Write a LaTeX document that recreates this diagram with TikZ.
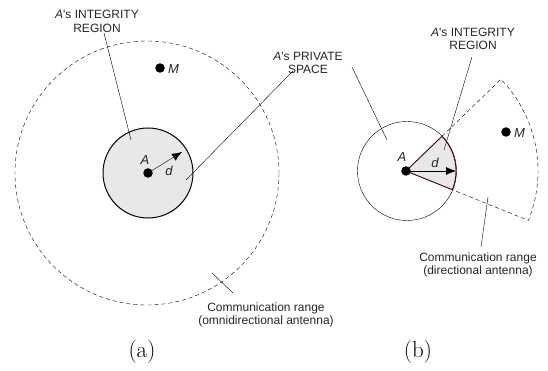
\documentclass[tikz,border=0pt]{standalone}
\usepackage{fontspec}
\newfontfamily\labelfont{Liberation Sans}
\usetikzlibrary{arrows.meta}
\begin{document}
\begin{tikzpicture}[x=1pt,y=-1pt,
  lbl/.style={font=\labelfont\fontsize{12}{13.5}\selectfont, align=center, text=black!85, inner sep=0pt},
  sym/.style={font=\labelfont\itshape\fontsize{13}{14}\selectfont, text=black!85, inner sep=0pt},
  dot/.style={circle,fill=black,inner sep=0pt,minimum size=9.5pt},
  rng/.style={dash pattern=on 4pt off 3pt, thin},
  lead/.style={thin},
  tag/.style={font=\fontsize{23}{26}\selectfont}]
\useasboundingbox (0,0) rectangle (548,371);

  % (a) omnidirectional
  \draw[rng] (147,173) circle[radius=132];
  \draw[fill=gray!18,line width=1pt] (148,173) circle[radius=45];
  \node[dot] (Aa) at (148,173) {};
  \node[sym] (Aal) at (145,160) {A};
  \draw[-{Latex[length=10pt,width=8pt]}] (Aa.center) -- (182,152) coordinate (da);
  \node[sym] (dal) at (169,171) {d};
  \node[dot] (Ma) at (160,68) {};
  \node[sym,anchor=west] (Mal) at (168,69) {M};

  \node[lbl] (intA) at (97,21.5) {\textit{A}'s INTEGRITY\\REGION};
  \coordinate (intAs) at (104,33);
  \coordinate (intAe) at (131,140);
  \draw[lead] (intAs) -- (intAe);

  \node[lbl] (priv) at (308,63) {\textit{A}'s PRIVATE\\SPACE};
  \coordinate (privAs) at (293,71);
  \coordinate (privAe) at (186,180);
  \draw[lead] (privAs) -- (privAe);

  \coordinate (comAs) at (212,273);
  \coordinate (comAe) at (233,293);
  \draw[lead] (comAs) -- (comAe);
  \node[lbl] (comA) at (266,315) {Communication range\\(omnidirectional antenna)};

  \node[tag] (capa) at (142,352) {(a)};

  % (b) directional
  \draw[thin] (407,171) circle[radius=49.5];
  \coordinate (Ab) at (406,171);
  \draw[rng] (Ab) ++(-44:50) -- ++(-44:82) arc[start angle=-44, end angle=22, radius=132] -- ++(22:-82);
  \draw[fill=gray!18,draw=black!75!red,line width=0.9pt] (Ab) -- ++(-44:50) arc[start angle=-44, end angle=22, radius=50] -- cycle;
  \node[dot] (Abd) at (Ab) {};
  \node[sym] (Abl) at (402,157) {A};
  \draw[-{Latex[length=10pt,width=8pt]}] (Abd.center) -- (456,171) coordinate (db);
  \node[sym] (dbl) at (435,163) {d};
  \node[dot] (Mb) at (506,132) {};
  \node[sym,anchor=west] (Mbl) at (514,133) {M};

  \node[lbl] (intB) at (473,39) {\textit{A}'s INTEGRITY\\REGION};
  \coordinate (intBs) at (472,57);
  \coordinate (intBe) at (444,150);
  \draw[lead] (intBs) -- (intBe);

  \coordinate (privBs) at (352,67);
  \coordinate (privBe) at (387,140);
  \draw[lead] (privBs) -- (privBe);

  \coordinate (comBs) at (481,247);
  \coordinate (comBe) at (488,197);
  \draw[lead] (comBs) -- (comBe);
  \node[lbl] (comB) at (478,265) {Communication range\\(directional antenna)};

  \node[tag] (capb) at (418,352) {(b)};

\end{tikzpicture}
\end{document}
